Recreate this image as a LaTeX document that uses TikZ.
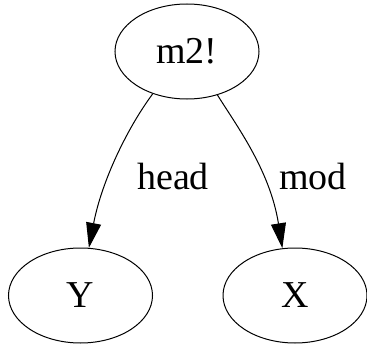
\documentclass[tikz,border=0pt]{standalone}
\usepackage{fontspec}
\setmainfont{Liberation Serif}
\usetikzlibrary{arrows.meta,shapes.geometric}
\begin{document}
\begin{tikzpicture}[x=1pt,y=-1pt,
  nd/.style={draw,ellipse,line width=1pt,minimum width=144pt,minimum height=95pt,inner sep=0pt,font=\fontsize{38}{44}\selectfont},
  lbl/.style={font=\fontsize{38}{44}\selectfont,inner sep=0pt},
  edge/.style={line width=1pt,-{Triangle[length=25pt,width=15pt]}}]
\useasboundingbox (0,0) rectangle (367,345);
\node[nd] (m2) at (187,51.5) {m2!};
\node[nd] (Y) at (80.5,295.5) {Y};
\node[nd] (X) at (295,295.5) {X};
\draw[edge] (m2.231) .. controls (128,127) and (102,180) .. (Y.80);
\draw[edge] (m2.305) .. controls (236,125) and (270,170) .. (X.105);
\node[lbl] (lh) at (173,177) {head};
\node[lbl] (lm) at (313,177) {mod};
\end{tikzpicture}
\end{document}
